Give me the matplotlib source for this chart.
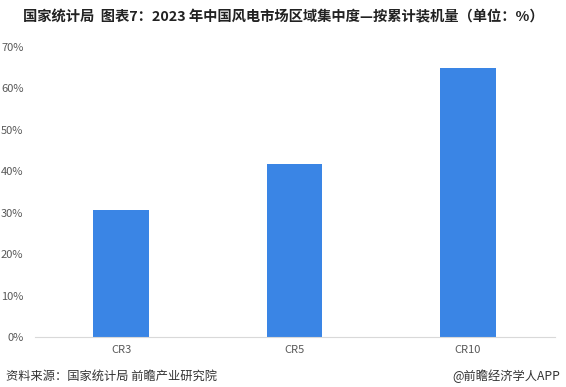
import matplotlib
matplotlib.use('Agg')
from matplotlib import pyplot as plt
from matplotlib.ticker import FuncFormatter

plt.rcParams['font.family'] = ['Noto Sans CJK SC', 'DejaVu Sans']

# 数据
categories = ["CR3", "CR5", "CR10"]
values = [30.7, 41.8, 65.0]
yticks = [0, 10, 20, 30, 40, 50, 60, 70]

fig = plt.figure(figsize=(5.66, 3.87), dpi=100)
ax = fig.add_axes([0.061, 0.129, 0.919, 0.75])

ax.bar(range(len(categories)), values, width=0.32, color='#3a85e5')

ax.set_xlim(-0.5, len(categories) - 0.5)
ax.set_ylim(0, 70)
ax.set_yticks(yticks)
ax.yaxis.set_major_formatter(FuncFormatter(lambda v, p: f'{v:.0f}%'))
ax.set_xticks(range(len(categories)))
ax.set_xticklabels(categories)
ax.tick_params(axis='both', length=0, labelsize=8, colors='#595959')
ax.tick_params(axis='y', pad=8)
ax.tick_params(axis='x', pad=6)

for s in ['top', 'right', 'left']:
    ax.spines[s].set_visible(False)
ax.spines['bottom'].set_color('#d9d9d9')

# 标题与来源
fig.text(0.5, 0.955, '国家统计局  图表7：2023 年中国风电市场区域集中度—按累计装机量（单位：%）',
         ha='center', va='center', fontsize=10.3, fontweight='bold', color='#222222')
fig.text(0.01, 0.028, '资料来源：国家统计局 前瞻产业研究院', ha='left', va='center',
         fontsize=8.8, color='#333333')
fig.text(0.99, 0.028, '@前瞻经济学人APP', ha='right', va='center',
         fontsize=8.8, color='#333333')

fig.savefig('out.png', dpi=100)
